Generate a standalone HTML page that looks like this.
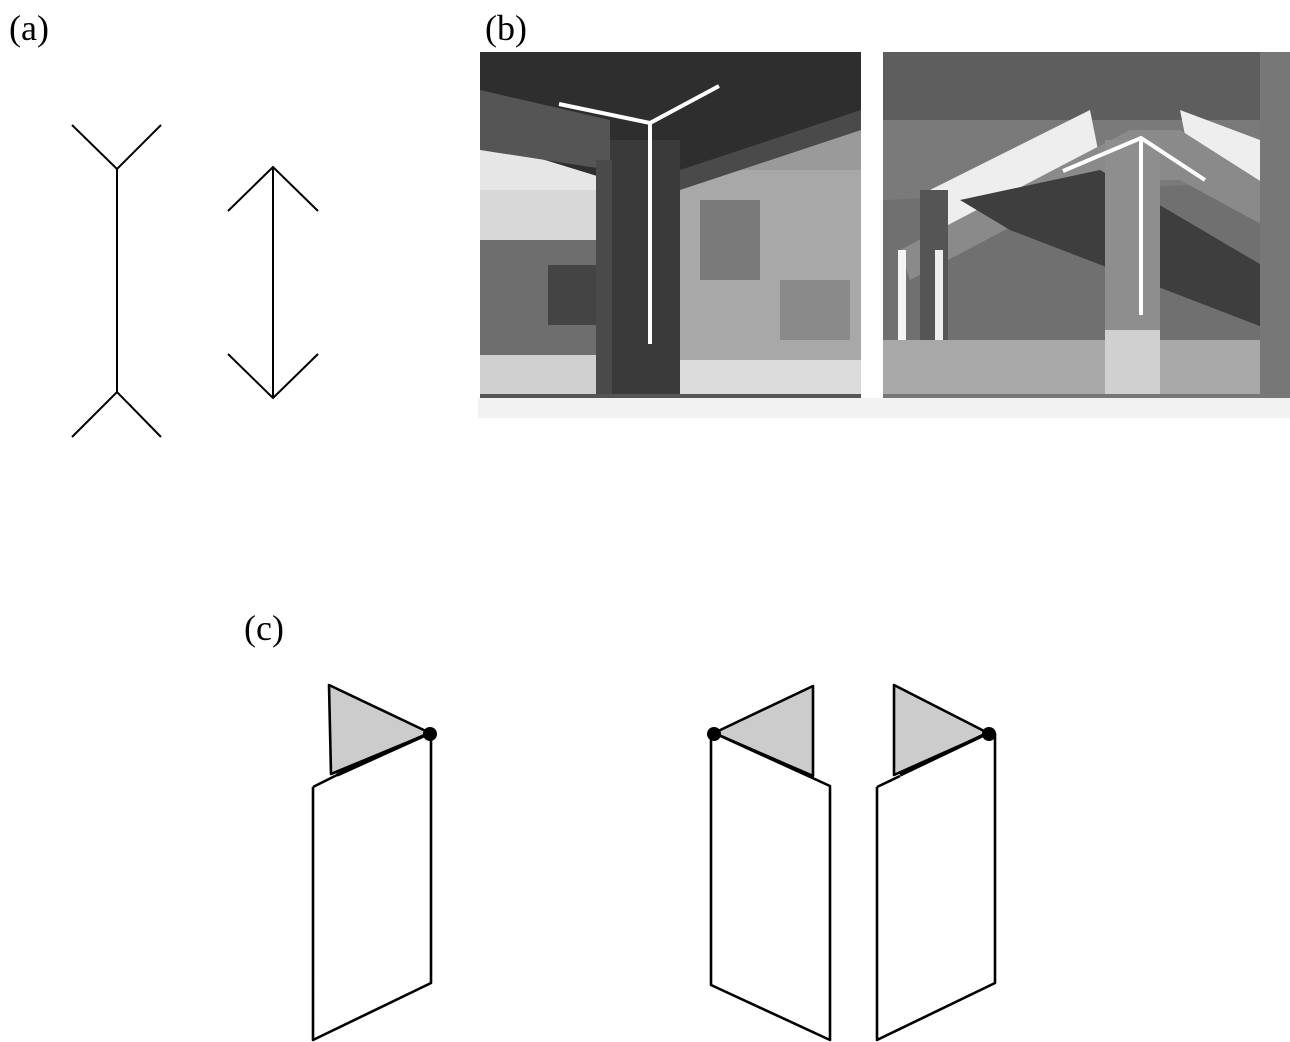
<!DOCTYPE html>
<html><head><style>
html,body{margin:0;padding:0;background:#fff;}
svg{display:block;}
text{font-family:"Liberation Serif",serif;font-size:36px;fill:#000;}
</style></head><body>
<svg width="1290" height="1042" viewBox="0 0 1290 1042" xmlns="http://www.w3.org/2000/svg">
<text x="9" y="40">(a)</text>
<text x="485" y="40">(b)</text>
<text x="244" y="640">(c)</text>
<g stroke="#000" stroke-width="2" fill="none">
<polyline points="72,125 117,169 161,125"/>
<line x1="117" y1="169" x2="117" y2="392"/>
<polyline points="72,437 117,392 161,437"/>
<polyline points="228,211 273,167 318,211"/>
<line x1="273" y1="167" x2="273" y2="398"/>
<polyline points="228,354 273,398 318,354"/>
</g>
<rect x="478" y="398" width="812" height="20" fill="#f2f2f2"/>
<!-- left photo -->
<rect x="480" y="52" width="381" height="346" fill="#9a9a9a"/>
<rect x="480" y="150" width="130" height="90" fill="#e6e6e6"/>
<rect x="480" y="190" width="130" height="50" fill="#d8d8d8"/>
<rect x="480" y="240" width="130" height="115" fill="#6e6e6e"/>
<rect x="548" y="265" width="50" height="60" fill="#444"/>
<rect x="480" y="355" width="130" height="43" fill="#d0d0d0"/>
<rect x="680" y="170" width="181" height="228" fill="#a8a8a8"/>
<rect x="700" y="200" width="60" height="80" fill="#7a7a7a"/>
<rect x="780" y="280" width="70" height="60" fill="#8a8a8a"/>
<rect x="680" y="360" width="181" height="38" fill="#dcdcdc"/>
<polygon points="480,52 861,52 861,110 680,180 610,180 480,140" fill="#2e2e2e"/>
<polygon points="480,90 610,120 610,170 480,150" fill="#555"/>
<polygon points="610,140 680,140 680,398 610,398" fill="#3a3a3a"/>
<polygon points="596,160 612,160 612,398 596,398" fill="#4a4a4a"/>
<polygon points="680,170 861,110 861,130 680,190" fill="#4a4a4a"/>
<rect x="480" y="394" width="381" height="4" fill="#555"/>
<!-- right photo -->
<rect x="883" y="52" width="407" height="346" fill="#707070"/>
<rect x="883" y="52" width="407" height="70" fill="#5e5e5e"/>
<polygon points="883,120 1290,120 1290,180 883,200" fill="#7a7a7a"/>
<polygon points="930,190 1090,110 1100,160 920,240" fill="#eeeeee"/>
<polygon points="1180,110 1260,140 1270,200 1190,160" fill="#eeeeee"/>
<polygon points="900,250 1130,130 1180,130 1290,200 1290,240 1180,180 1100,180 910,280" fill="#8a8a8a"/>
<polygon points="960,200 1100,170 1270,270 1270,330 1010,230" fill="#3e3e3e"/>
<rect x="1105" y="140" width="55" height="258" fill="#8e8e8e"/>
<rect x="920" y="190" width="28" height="208" fill="#555"/>
<rect x="898" y="250" width="8" height="145" fill="#f5f5f5"/>
<rect x="935" y="250" width="8" height="145" fill="#eeeeee"/>
<rect x="883" y="340" width="407" height="58" fill="#a8a8a8"/>
<rect x="1105" y="330" width="55" height="68" fill="#d0d0d0"/>
<rect x="1260" y="52" width="30" height="346" fill="#777"/>
<rect x="883" y="394" width="407" height="4" fill="#777"/>
<g stroke="#fff" stroke-width="4" fill="none">
<polyline points="559,104 650,123 719,86"/>
<line x1="650" y1="123" x2="650" y2="344"/>
<polyline points="1063,171 1141,138 1205,180"/>
<line x1="1141" y1="138" x2="1141" y2="315"/>
</g>
<!-- (c) -->
<g stroke="#000" stroke-width="2.6" stroke-linejoin="round">
<polygon points="329,685 430,733 331,774" fill="#cccccc"/>
<polyline fill="none" points="313,787 337,775 430,733"/>
<line x1="337" y1="775" x2="430" y2="733" stroke-width="3.5"/>
<polyline fill="none" points="313,787 313,1040 431,983 431,733"/>
<polygon points="813,686 714,733 813,776" fill="#cccccc"/>
<polyline fill="none" points="714,733 830,786 830,1040 711,985 711,733"/>
<polygon points="894,685 988,733 894,775" fill="#cccccc"/>
<line x1="900" y1="775" x2="988" y2="733" stroke-width="3.5"/>
<polyline fill="none" points="877,787 900,776"/>
<polyline fill="none" points="877,787 877,1040 995,983 995,733"/>
</g>
<circle cx="430" cy="734" r="7" fill="#000"/>
<circle cx="714" cy="734" r="7" fill="#000"/>
<circle cx="989" cy="734" r="7" fill="#000"/>
</svg>
</body></html>
